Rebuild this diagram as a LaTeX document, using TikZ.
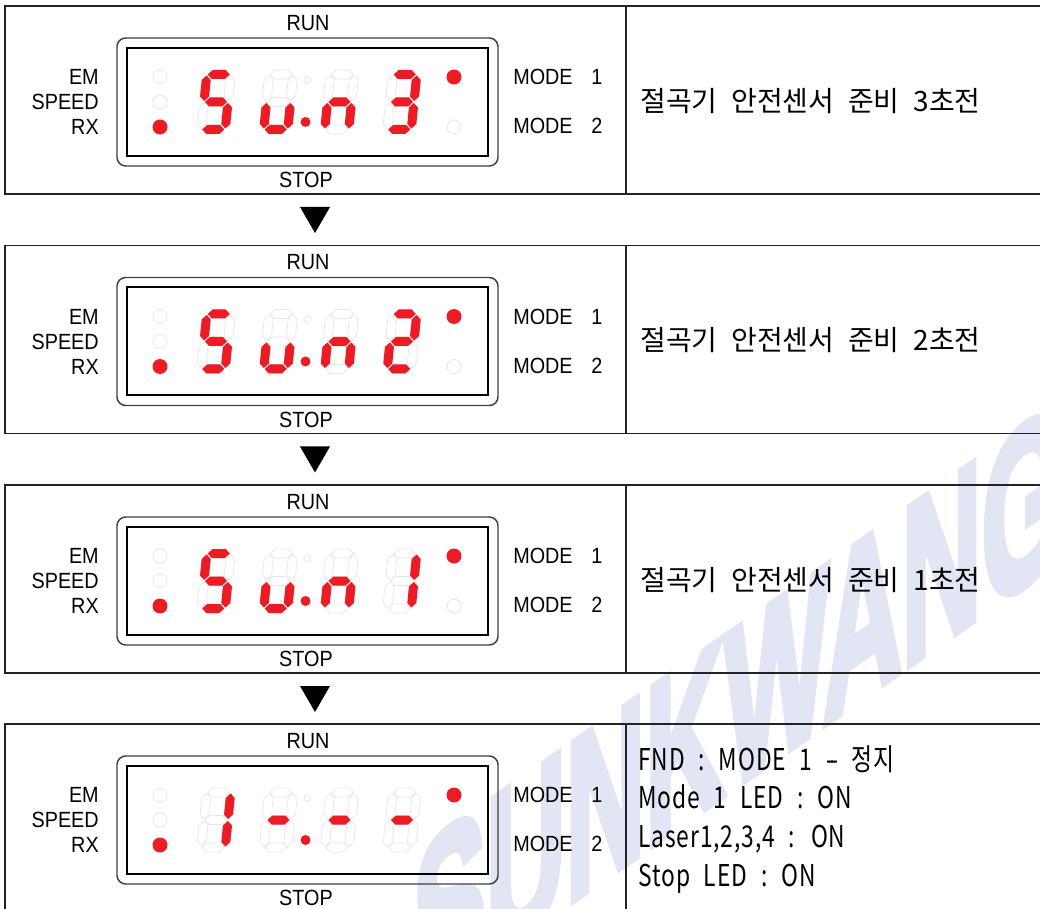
\documentclass[tikz,border=0pt]{standalone}
\usepackage{fontspec}
\setmainfont{Liberation Sans}
\newfontfamily\labfont[FakeStretch=0.9]{Liberation Sans}
\newfontfamily\krfont[WordSpace=2.2]{Noto Sans CJK KR}
\newfontfamily\krcfont[FakeStretch=0.76, LetterSpace=3, WordSpace=2.3]{Noto Sans CJK KR}
\newfontfamily\wmfont[BoldFeatures={FakeBold=4}]{Liberation Sans}
\definecolor{ledred}{RGB}{237,28,36}
\definecolor{wmblue}{RGB}{226,229,243}
\definecolor{ghostc}{RGB}{230,230,230}
\definecolor{framec}{RGB}{35,35,35}
\tikzset{
  lab/.style={font=\labfont\fontsize{16.5}{18}\selectfont, inner sep=0pt},
  krtxt/.style={font=\krfont\fontsize{21}{24}\selectfont, inner sep=0pt, anchor=west},
  infotxt/.style={font=\krcfont\fontsize{22.5}{26}\selectfont, inner sep=0pt, anchor=base west},
  litseg/.style={fill=ledred},
  offseg/.style={draw=ghostc, line width=0.5pt},
  ledon/.style={fill=ledred},
  ledoff/.style={draw=ghostc, line width=0.6pt},
  panelbox/.style={draw=framec, line width=1.1pt},
  bezel/.style={draw=black!75, line width=1.1pt, rounded corners=6.5pt},
  window/.style={draw=black, line width=1.5pt},
  arrowtri/.style={fill=black},
  wmark/.style={font=\wmfont\bfseries\fontsize{140}{150}\selectfont, text=wmblue, inner sep=0pt}
}
\newcommand\hsg[2]{\path[#2] (-11,#1) -- ++(4.5,-4.5) -- ++(13,0) -- ++(4.5,4.5) -- ++(-4.5,4.5) -- ++(-13,0) -- cycle;}
\newcommand\vsg[3]{\path[#3] (#1,#2+1) -- ++(4.5,4.5) -- ++(0,16.5) -- ++(-4.5,4.5) -- ++(-4.5,-4.5) -- ++(0,-16.5) -- cycle;}
\newcommand\dsega[1]{\hsg{-27.5}{#1}}
\newcommand\dsegb[1]{\vsg{12}{-27.5}{#1}}
\newcommand\dsegc[1]{\vsg{12}{0}{#1}}
\newcommand\dsegd[1]{\hsg{27.5}{#1}}
\newcommand\dsege[1]{\vsg{-12}{0}{#1}}
\newcommand\dsegf[1]{\vsg{-12}{-27.5}{#1}}
\newcommand\dsegg[1]{\hsg{0}{#1}}
\newcommand\fnddigit[3]{%
  \begin{scope}[shift={(#1,#2)}, xslant=0.1]
    \foreach \sg in {a,b,c,d,e,f,g}{\csname dseg\sg\endcsname{offseg}}
    \foreach \sg in {#3}{\csname dseg\sg\endcsname{litseg}}
  \end{scope}}
% #1 top y, #2 name prefix, #3-#6 lit segments of the four digits
\newcommand\fndpanel[6]{%
  \begin{scope}[shift={(0,#1)}]
    \draw[panelbox] (5,0) rectangle (1060,188);
    \draw[panelbox] (626,0) -- (626,188);
    \node[lab] (#2run) at (308,17) {RUN};
    \node[lab] (#2stop) at (306,174) {STOP};
    \draw[bezel] (117,32) rectangle (498,160);
    \draw[window] (127,42) rectangle (488,150);
    \node[lab, anchor=east] (#2em) at (99,71) {EM};
    \node[lab, anchor=east] (#2speed) at (99,96) {SPEED};
    \node[lab, anchor=east] (#2rx) at (99,121) {RX};
    \path[ledoff] (160,71) circle (7);
    \path[ledoff] (160,96) circle (7);
    \path[ledon] (160,121) circle (7.5);
    \path[ledon] (454,71) circle (7.5);
    \path[ledoff] (454,121) circle (7);
    \node[lab, anchor=west] (#2modea) at (513,71) {MODE\hspace{0.85em}1};
    \node[lab, anchor=west] (#2modeb) at (513,120) {MODE\hspace{0.85em}2};
    \fnddigit{216}{96}{#3}
    \fnddigit{278.5}{96}{#4}
    \fnddigit{339.5}{96}{#5}
    \fnddigit{402}{96}{#6}
    \path[ledoff] (307.5,74) circle (3.5);
    \path[ledon] (305.5,116) circle (5);
  \end{scope}}
\begin{document}
\begin{tikzpicture}[x=0.75pt, y=-0.75pt]
  \useasboundingbox (0,0) rectangle (1040,909);
  \clip (0,0) rectangle (1040,909);
  \fill[white] (0,0) rectangle (1040,909);
  % watermark
  \begin{scope}[shift={(740,705)}, rotate=35, xslant=0.7, xscale=0.72, transform shape]
    \node[wmark] (wm) at (0,0) {SUNKWANG};
  \end{scope}
  % panels
  \fndpanel{6}{p1}{a,f,g,c,d}{e,d,c}{g,e,c}{a,b,g,c,d}
  \fndpanel{245.5}{p2}{a,f,g,c,d}{e,d,c}{g,e,c}{a,b,g,e,d}
  \fndpanel{485}{p3}{a,f,g,c,d}{e,d,c}{g,e,c}{b,c}
  \fndpanel{724}{p4}{b,c}{g}{g}{g}
  \node[krtxt] (t1) at (640,101) {절곡기 안전센서 준비 3초전};
  \node[krtxt] (t2) at (640,340.5) {절곡기 안전센서 준비 2초전};
  \node[krtxt] (t3) at (640,580) {절곡기 안전센서 준비 1초전};
  \node[infotxt] (i1) at (638,770) {FND : MODE 1 -\kern-0.14em- 정지};
  \node[infotxt] (i2) at (638,808.5) {Mode 1 LED : ON};
  \node[infotxt] (i3) at (638,847) {Laser1,2,3,4 : ON};
  \node[infotxt] (i4) at (638,886) {Stop LED : ON};
  % arrows between stages
  \fill[arrowtri] (300,207) -- (330,207) -- (315,233) -- cycle;
  \fill[arrowtri] (300,446.5) -- (330,446.5) -- (315,472.5) -- cycle;
  \fill[arrowtri] (300,686) -- (330,686) -- (315,712) -- cycle;
\end{tikzpicture}
\end{document}
